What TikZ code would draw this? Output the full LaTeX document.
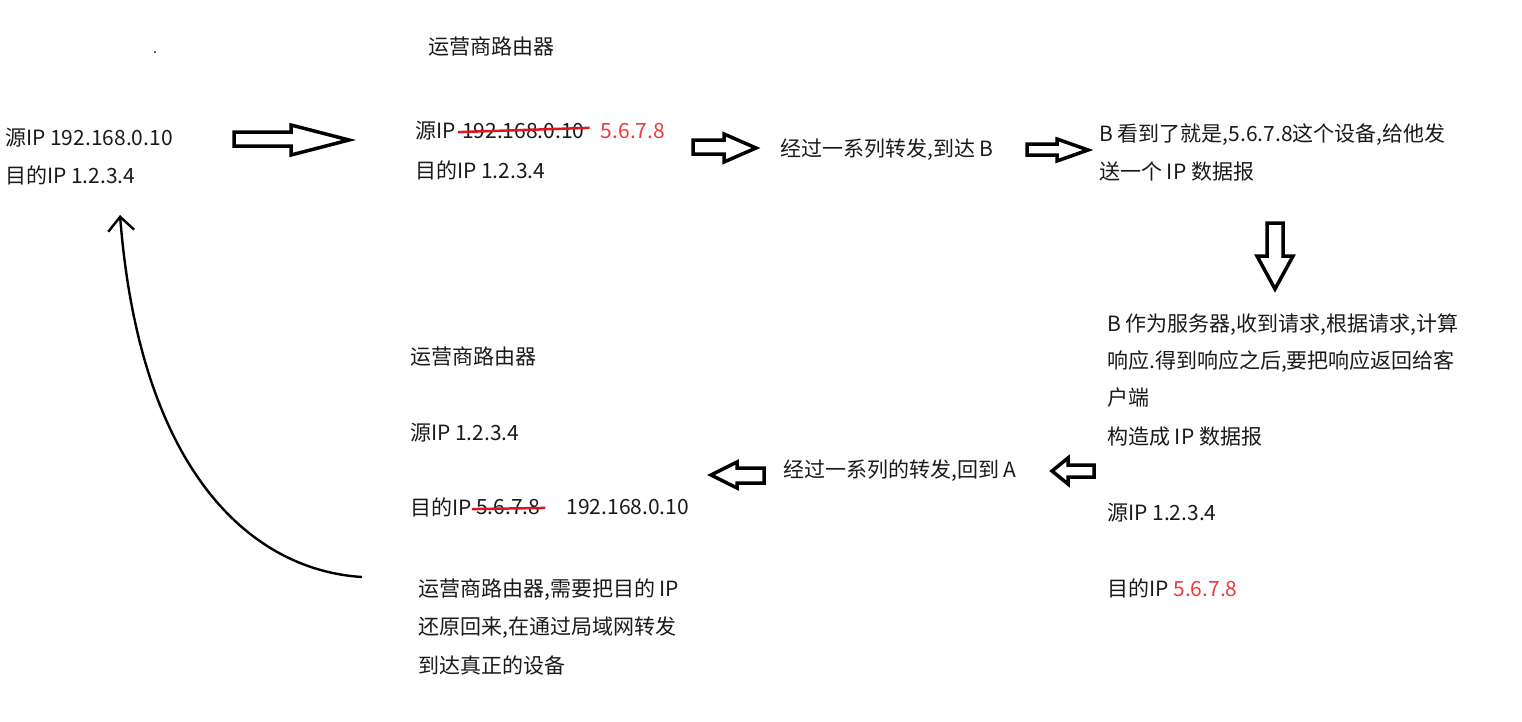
\documentclass[tikz,border=0pt]{standalone}
\usepackage{fontspec}
\setmainfont{Noto Sans CJK SC}
\usetikzlibrary{positioning,arrows.meta}
\definecolor{neu}{HTML}{EE3B3B}
\definecolor{streich}{HTML}{E0141E}
\definecolor{schrift}{HTML}{1A1A1A}

\begin{document}
\begin{tikzpicture}[x=1pt, y=-1pt,
  txt/.style={font=\fontsize{21}{37}\selectfont, inner sep=0pt, anchor=west, text=schrift},
  hohl/.style={draw, line width=3.5pt, line join=miter, fill=white},
  strich/.style={draw=streich, line width=2.5pt, shorten <=-4pt, shorten >=-5pt}]
\useasboundingbox (0,0) rectangle (1522,721);

% Punkt oben links
\fill (155,52) circle (1pt);

% Client A
\node[txt] (srcA) at (5,138) {源IP 192.168.0.10};
\node[txt] (dstA) at (5,175) {目的IP 1.2.3.4};

% Router, Hinweg
\node[txt] (rtop) at (428,47) {运营商路由器};
\node[txt] (src1) at (415,131) {源IP};
\node[txt, right=6pt of src1] (alt1) {192.168.0.10};
\node[txt, right=16pt of alt1, text=neu] (neu1) {5.6.7.8};
\draw[strich] ([yshift=-1pt]alt1.west) -- ([yshift=3pt]alt1.east);
\node[txt] (dst1) at (415,170) {目的IP 1.2.3.4};

% Weiter zu B
\node[txt] (weg1) at (780,150) {经过一系列转发,到达 B};
\node[txt] (b1) at (1099,135) {B 看到了就是,5.6.7.8这个设备,给他发};
\node[txt] (b2) at (1099,172) {送一个 IP 数据报};

% Server B
\node[txt] (srv1) at (1107,325) {B 作为服务器,收到请求,根据请求,计算};
\node[txt] (srv2) at (1107,362) {响应.得到响应之后,要把响应返回给客};
\node[txt] (srv3) at (1107,398) {户端};
\node[txt] (srv4) at (1107,437) {构造成 IP 数据报};
\node[txt] (srcB) at (1107,513) {源IP 1.2.3.4};
\node[txt] (dstB) at (1107,588) {目的IP \textcolor{neu}{5.6.7.8}};

% Rueckweg
\node[txt] (weg2) at (783,471) {经过一系列的转发,回到 A};

% Router, Rueckweg
\node[txt] (rbot) at (410,357) {运营商路由器};
\node[txt] (src2) at (410,433) {源IP 1.2.3.4};
\node[txt] (dst2) at (410,507) {目的IP};
\node[txt, right=4pt of dst2] (alt2) {5.6.7.8};
\node[txt, right=26pt of alt2] (neu2) {192.168.0.10};
\draw[strich] ([yshift=-2pt]alt2.west) -- ([yshift=-1pt]alt2.east);

\node[txt] (nat1) at (418,590) {运营商路由器,需要把目的 IP};
\node[txt] (nat2) at (418,628) {还原回来,在通过局域网转发};
\node[txt] (nat3) at (418,665) {到达真正的设备};

% Hohlpfeile
\draw[hohl] (234,132) -- (291,132) -- (291,125) -- (349,140) -- (291,155) -- (291,146) -- (234,146) -- cycle;
\draw[hohl] (693,140) -- (724,140) -- (724,134) -- (756,148) -- (724,162) -- (724,154) -- (693,154) -- cycle;
\draw[hohl] (1027,144) -- (1057,144) -- (1057,139) -- (1088,150) -- (1057,161) -- (1057,155) -- (1027,155) -- cycle;
\draw[hohl] (1267,223) -- (1283,223) -- (1283,256) -- (1293,256) -- (1275,289) -- (1257,256) -- (1267,256) -- cycle;
\draw[hohl] (1094,465) -- (1068,465) -- (1068,458) -- (1052,471) -- (1068,484) -- (1068,477) -- (1094,477) -- cycle;
\draw[hohl] (764,468) -- (737,468) -- (737,462) -- (711,475) -- (737,488) -- (737,483) -- (764,483) -- cycle;

% Bogen zurueck zu A
\coordinate (kstart) at (362,577);
\coordinate (kend) at (120,215);
\draw[line width=2.4pt, -{Straight Barb[length=14pt, width=26pt]}] (kstart) .. controls (250,570) and (140,470) .. (kend);
\end{tikzpicture}
\end{document}
